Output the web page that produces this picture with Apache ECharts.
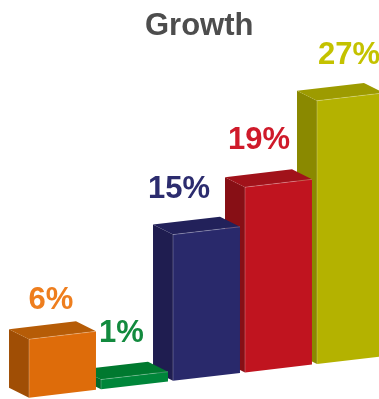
<!DOCTYPE html>
<html>
<head>
<meta charset="utf-8">
<script src="https://cdn.jsdelivr.net/npm/echarts@6/dist/echarts.min.js"></script>
<style>
html,body{margin:0;padding:0;background:#fff;}
#chart{width:379px;height:399px;}
</style>
</head>
<body>
<div id="chart"></div>
<script>
// ---- data ----
const titleText = 'Growth';
const categories = ['1', '2', '3', '4', '5'];
const values = [6, 1, 15, 19, 27];
const valueLabels = ['6%', '1%', '15%', '19%', '27%'];

// ---- styles ----
const frontColors = ['#DE6C0A', '#00863A', '#29296B', '#C0141F', '#B4B200'];
const sideColors  = ['#A04E05', '#006A2C', '#1F1D50', '#870F15', '#8A8900'];
const topColors   = ['#B65C07', '#00792F', '#22215A', '#A1121A', '#9D9B00'];
const labelColors = ['#EE7E1E', '#128A3E', '#2C2C6E', '#CF1A2A', '#C4C200'];
const labelNudgeX = [-11.5, -13, -27.5, -19.5, -1.5];
const labelNudgeY = [-35, -42, -41, -43, -41];
const SLOPE = -0.117;          // perspective tilt of the front plane
const DEPTH = [-20, -10];      // oblique depth vector

const chart = echarts.init(document.getElementById('chart'), null, {renderer: 'canvas'});

function renderItem(params, api) {
  const idx = api.value(0);
  const v = api.value(1);
  const base = api.coord([idx, 0]);
  const top = api.coord([idx, v]);
  const bw = api.size([1, 0])[0] * 0.93;
  const x0 = params.coordSys.x;
  const sh = x => SLOPE * (x - x0);
  const c = base[0];
  const xl = c - bw / 2, xr = c + bw / 2;
  const FLB = [xl, base[1] + sh(xl)];
  const FRB = [xr, base[1] + sh(xr)];
  const FLT = [xl, top[1] + sh(xl)];
  const FRT = [xr, top[1] + sh(xr)];
  const d = p => [p[0] + DEPTH[0], p[1] + DEPTH[1]];
  const BLT = d(FLT), BRT = d(FRT), BLB = d(FLB);
  const ty = top[1] + sh(c);
  return {
    type: 'group',
    children: [
      {type: 'polygon', shape: {points: [FLB, FLT, BLT, BLB]}, style: {fill: sideColors[idx]}},
      {type: 'polygon', shape: {points: [FLT, FRT, BRT, BLT]}, style: {fill: topColors[idx]}},
      {type: 'polygon', shape: {points: [FLB, FRB, FRT, FLT]}, style: {fill: frontColors[idx]}},
      {type: 'polyline', shape: {points: [FLB, FLT, FRT]},
        style: {stroke: 'rgba(255,255,255,0.3)', lineWidth: 0.8, fill: null}},
      {type: 'text', x: c + labelNudgeX[idx], y: ty + labelNudgeY[idx],
        style: {text: valueLabels[idx], fill: labelColors[idx], align: 'center', verticalAlign: 'middle',
          font: 'bold 31px "Liberation Sans", Arial, sans-serif'}}
    ]
  };
}

// draw right-to-left so that left bars overlap the side faces of right bars
const seriesData = values.map((v, i) => [i, v, categories[i]]).reverse();

chart.setOption({
  animation: false,
  backgroundColor: '#ffffff',
  title: {
    text: titleText, left: 145, top: 11, padding: 0,
    textStyle: {fontSize: 31, fontWeight: 'bold', color: '#4D4D4D', fontFamily: '"Liberation Sans", Arial, sans-serif'}
  },
  grid: {left: 26.5, right: 0, top: 105.5, bottom: 1},
  // slot index axis: one bar slot per unit, last slot running past the right edge
  xAxis: {type: 'value', min: -0.5, max: 4.396, show: false},
  yAxis: {type: 'value', min: 0, max: 30, show: false},
  series: [{
    type: 'custom',
    renderItem: renderItem,
    clip: false,
    encode: {x: 0, y: 1},
    data: seriesData
  }]
});
</script>
</body>
</html>
